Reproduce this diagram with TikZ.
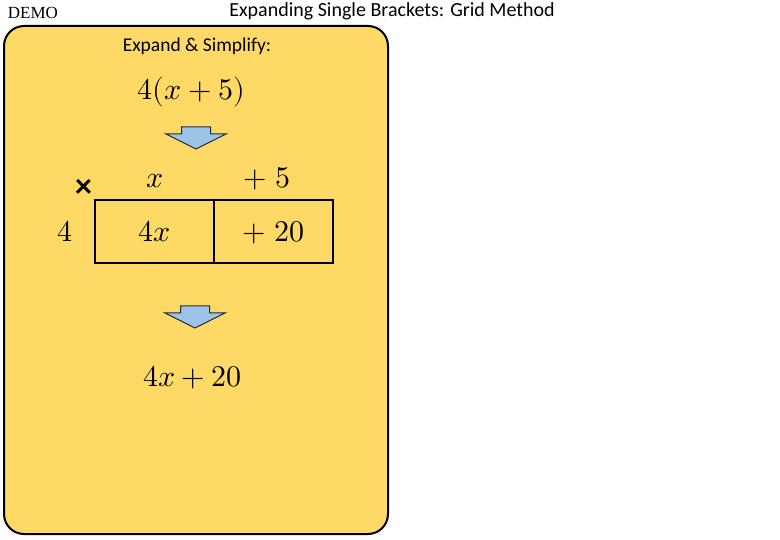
\documentclass[tikz,border=0pt]{standalone}
\usepackage{fontspec}
\usepackage{unicode-math}
\setmainfont{Carlito}
\setmathfont{Latin Modern Math}
\newfontfamily\demofont{Liberation Serif}
\usetikzlibrary{positioning}
\definecolor{cardgold}{HTML}{FFD966}
\definecolor{arrowblue}{HTML}{9DC3E6}
\definecolor{arrowline}{HTML}{1F2A3C}

\newcommand\downarrowat[1]{
  \begin{scope}[shift={#1}]
    \draw[arrowbox] (-14.5,0) -- (14.5,0) -- (14.5,7) -- (30,7)
      -- (0,22) -- (-30,7) -- (-14.5,7) -- cycle;
  \end{scope}
}

\begin{document}
\begin{tikzpicture}[
    x=1pt, y=-1pt,
    card/.style={draw, line width=2pt, fill=cardgold, rounded corners=20pt},
    arrowbox/.style={draw=arrowline, line width=1pt, fill=arrowblue, line join=miter},
    cell/.style={draw, line width=2pt, minimum width=119pt, minimum height=63pt,
      inner sep=0pt, outer sep=0pt, text height=19.3pt, text depth=0pt,
      font=\fontsize{30}{34}\selectfont},
    maths/.style={inner sep=0pt, anchor=base, font=\fontsize{30}{34}\selectfont},
    words/.style={inner sep=0pt, anchor=base}
  ]
    \useasboundingbox (0,0) rectangle (780,540);

    % heading
    \node[words, font=\demofont\fontsize{17}{20}\selectfont] (demo) at (33,19) {DEMO};
    \node[words, font=\fontsize{20}{24}\selectfont] (title) at (392,17)
      {Expanding Single Brackets: Grid Method};

    % card
    \draw[card] (4,26) rectangle (388,534);
    \node[words, font=\fontsize{19.5}{23}\selectfont] (task) at (197,52) {Expand \& Simplify:};

    \node[maths] (question) at (191.5,100) {$4(x+5)$};
    \downarrowat{(196,127)}

    % grid
    \node[cell] (left) at (154.5,231.5) {$4x$};
    \node[cell, right=0pt of left] (right) {$+\;20$};
    \node[inner sep=0pt, font=\bfseries\fontsize{34}{38}\selectfont] (times) at (83.5,188) {×};
    \node[maths] (colx) at (155,188) {$x$};
    \node[maths] (colfive) at (267,188) {$+\;5$};
    \node[maths] (rowfour) at (64.5,242) {$4$};

    \downarrowat{(195,306)}
    \node[maths] (answer) at (192.5,387) {$4x+20$};
  \end{tikzpicture}
\end{document}
